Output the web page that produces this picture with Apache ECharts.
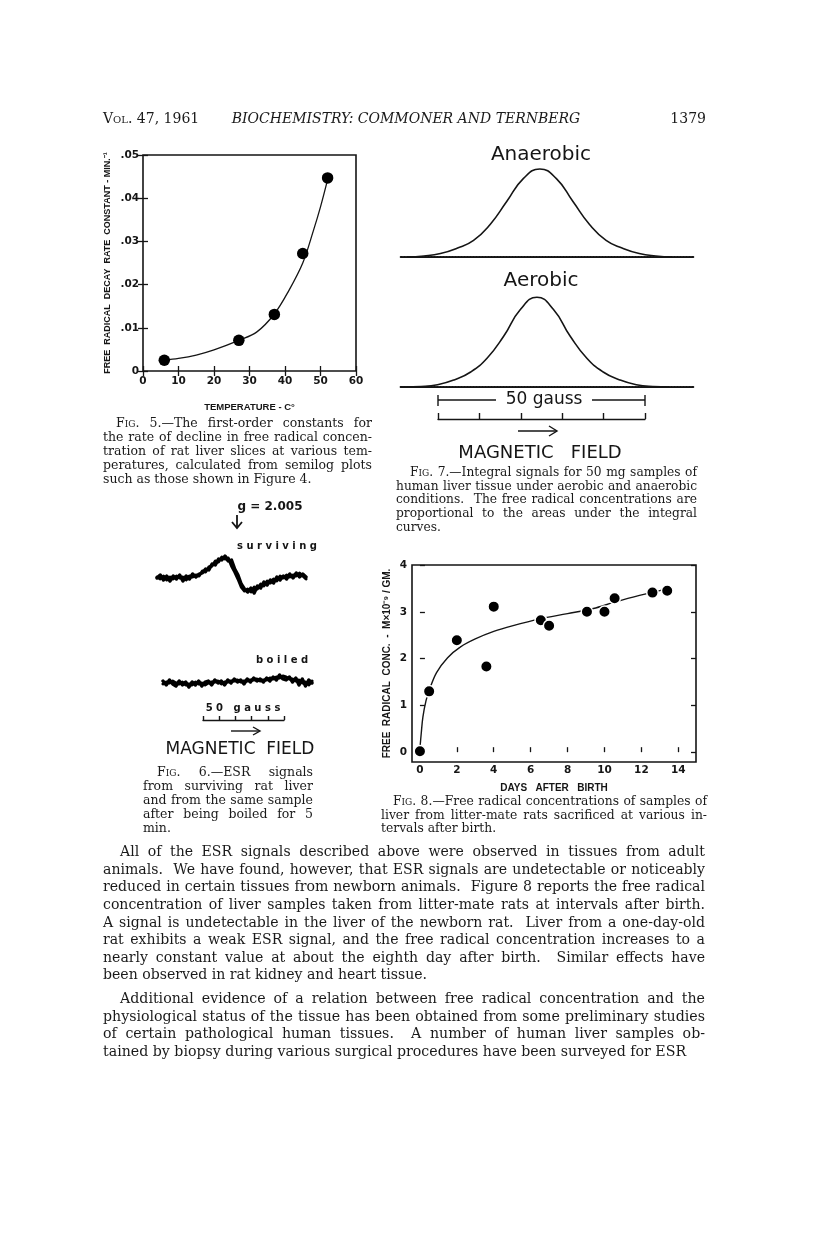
<!DOCTYPE html>
<html>
<head>
<meta charset="utf-8">
<title>Biochemistry: Commoner and Ternberg, p. 1379</title>
<script src="https://cdn.jsdelivr.net/npm/echarts@6.0.0/dist/echarts.min.js"></script>
<style>
  html, body { margin: 0; padding: 0; background: #fff; }
  #page { position: relative; width: 816px; height: 1244px; overflow: hidden; background: #fff; }
  #chart { position: absolute; left: 0; top: 0; width: 816px; height: 1244px; }
  .ln { position: absolute; font-family: "DejaVu Serif", serif; color: #1a1a1a; white-space: nowrap;
        text-align: justify; text-align-last: justify; }
  .ln.last { text-align-last: left; }
  .sc { font-variant: small-caps; }
  .hd { position: absolute; font-family: "DejaVu Serif", serif; color: #1a1a1a; font-size: 14px; line-height: 16px; white-space: nowrap; }
</style>
</head>
<body>
<div id="page">
  <div id="chart"></div>
</div>
<script>
// Fig. 5 - decay constant vs temperature
const temp5 = [6, 27, 37, 45, 52];
const rate5 = [0.0025, 0.0071, 0.0131, 0.0272, 0.0447];
const curveTemp5 = [6, 10, 15, 20, 27, 32, 37, 41, 45, 48, 50, 52];
const curveRate5 = [0.0025, 0.0029, 0.0037, 0.0049, 0.0071, 0.009, 0.0132, 0.0185, 0.025, 0.0325, 0.038, 0.0443];

// Fig. 7 - integral signals (field in gauss, relative height)
const anaField = [-7.4, -3.4, 0.6, 4.6, 8.6, 12.6, 16.6, 20.6, 24.6, 28.6, 32.6, 36.6, 40.6, 44.6, 48.6, 52.6, 56.6];
const anaSignal = [0, 0.012, 0.04, 0.10, 0.19, 0.37, 0.63, 0.89, 1.0, 0.89, 0.63, 0.37, 0.19, 0.10, 0.04, 0.012, 0];
const aerField = [-9.2, -8.1, -4.1, -0.1, 3.9, 7.9, 11.9, 15.9, 19.9, 23.9, 27.9, 31.9, 35.9, 39.9, 43.9, 47.9, 51.9, 55.9];
const aerSignal = [0, 0, 0.005, 0.025, 0.08, 0.17, 0.33, 0.58, 0.88, 1.02, 0.88, 0.58, 0.33, 0.17, 0.08, 0.025, 0.005, 0];

// Fig. 6 - ESR derivative traces (two overlapping scans each)
const esrField = [0, 2, 4, 6, 8, 10, 12, 14, 16, 18, 20, 22, 24, 26, 28, 30, 32, 34, 36, 38, 40, 42, 44, 46,
  48, 50, 52, 54, 56, 58, 60, 62, 64, 66, 68, 70, 72, 74, 76, 78, 80, 82, 84, 86, 88, 90, 92];
const survScanA = [0, 3, -2, 2, -3, 2, -1, 3, -3, 2, -1, 4, 1, 4, 5, 9, 8, 14, 13, 19, 18, 22, 17, 18,
  9, 3, -6, -11, -14, -10, -15, -8, -10, -4, -7, -2, -5, 1, -2, 2, -1, 4, 0, 5, 1, 4, 1];
const survScanB = [1, -1, 2, -2, 1, -1, 2, 0, 1, -2, 2, 1, 3, 2, 7, 6, 11, 12, 17, 16, 21, 19, 20, 12,
  6, -1, -9, -13, -11, -14, -9, -11, -6, -8, -3, -5, -1, -3, 2, 0, 3, 1, 3, 2, 5, 2, -1];
const boilScanA = [2, -2, 3, -1, -3, 2, -2, 1, -4, 1, -2, 2, -3, 1, 2, -2, 3, 0, 2, -2, 3, 0, 4, 1,
  3, -1, 4, 1, 5, 2, 4, 1, 5, 2, 6, 3, 8, 4, 3, 6, 1, 5, -2, 4, -3, 3, 0];
const boilScanB = [-1, 1, 0, 2, 0, -1, 1, -2, -1, -2, 1, -1, 0, -2, 0, 1, 1, 2, -1, 1, 1, 2, 2, 3,
  1, 2, 2, 3, 3, 4, 2, 3, 3, 5, 4, 6, 5, 7, 6, 4, 4, 2, 3, 0, 1, -2, 2];

// Fig. 8 - free radical conc. vs days after birth
const days8 = [0, 0.5, 2.0, 3.6, 4.0, 6.55, 7.0, 9.05, 10.0, 10.55, 12.6, 13.4];
const conc8 = [0.02, 1.3, 2.39, 1.83, 3.11, 2.82, 2.70, 3.0, 3.0, 3.29, 3.41, 3.45];
const curveDays8 = [0, 0.07, 0.16, 0.33, 0.5, 0.9, 1.5, 2.2, 3.0, 4.0, 5.0, 6.5, 8.0, 9.4, 10.5, 11.9, 13.4];
const curveConc8 = [0.08, 0.4, 0.75, 1.1, 1.32, 1.7, 2.02, 2.25, 2.42, 2.58, 2.7, 2.85, 2.96, 3.07, 3.2, 3.35, 3.49];
const ticks8X = [0, 2, 4, 6, 8, 10, 12, 14];
const ticks8Y = [0, 1, 2, 3, 4];

const ink = '#151515';
const sans = '"DejaVu Sans", "Noto Sans", sans-serif';
const narrow = '"Liberation Sans", Arial, sans-serif';
const pairs = (xs, ys) => xs.map((x, i) => [x, ys[i]]);

// ---------- text blocks (header, captions, body) ----------
const page = document.getElementById('page');

function addHead(text, css) {
  const d = document.createElement('div');
  d.className = 'hd';
  d.innerHTML = text;
  Object.assign(d.style, css);
  page.appendChild(d);
}
addHead('<span class="sc">Vol.</span> 47, 1961', { left: '103px', top: '110px' });
addHead('<i>BIOCHEMISTRY: COMMONER AND TERNBERG</i>', { left: '406px', top: '110px', transform: 'translateX(-50%)' });
addHead('1379', { right: '110px', top: '110px' });

// each line is justified to the column; font size is fitted so the tightest line just fills it
function block(x, w, firstY, lh, maxSize, indent, lines) {
  const probe = 20;
  const divs = [];
  let ratio = Infinity;
  lines.forEach((t, i) => {
    const d = document.createElement('div');
    const isLast = i === lines.length - 1;
    d.className = 'ln' + (isLast ? ' last' : '');
    const ind = i === 0 ? indent : 0;
    d.style.left = (x + ind) + 'px';
    d.style.width = (w - ind) + 'px';
    d.style.top = (firstY + i * lh - lh / 2) + 'px';
    d.style.height = lh + 'px';
    d.style.lineHeight = lh + 'px';
    d.style.fontSize = probe + 'px';
    const span = document.createElement('span');
    span.innerHTML = t;
    d.appendChild(span);
    page.appendChild(d);
    if (!isLast) ratio = Math.min(ratio, (w - ind) / span.getBoundingClientRect().width);
    divs.push(d);
  });
  const size = Math.min(maxSize, probe * ratio * 0.99);
  divs.forEach(d => { d.style.fontSize = size.toFixed(2) + 'px'; });
}

block(103, 269, 423, 14, 12.5, 13, [
  '<span class="sc">Fig.</span> 5.—The first-order constants for',
  'the rate of decline in free radical concen-',
  'tration of rat liver slices at various tem-',
  'peratures, calculated from semilog plots',
  'such as those shown in Figure 4.'
]);
block(396, 301, 473, 13.6, 12.5, 14, [
  '<span class="sc">Fig.</span> 7.—Integral signals for 50 mg samples of',
  'human liver tissue under aerobic and anaerobic',
  'conditions.&nbsp; The free radical concentrations are',
  'proportional to the areas under the integral',
  'curves.'
]);
block(143, 170, 772, 14, 12.5, 14, [
  '<span class="sc">Fig.</span> 6.—ESR signals',
  'from surviving rat liver',
  'and from the same sample',
  'after being boiled for 5',
  'min.'
]);
block(381, 326, 802, 13.6, 12.5, 12, [
  '<span class="sc">Fig.</span> 8.—Free radical concentrations of samples of',
  'liver from litter-mate rats sacrificed at various in-',
  'tervals after birth.'
]);
block(103, 602, 852, 17.6, 16, 17, [
  'All of the ESR signals described above were observed in tissues from adult',
  'animals.&nbsp; We have found, however, that ESR signals are undetectable or noticeably',
  'reduced in certain tissues from newborn animals.&nbsp; Figure 8 reports the free radical',
  'concentration of liver samples taken from litter-mate rats at intervals after birth.',
  'A signal is undetectable in the liver of the newborn rat.&nbsp; Liver from a one-day-old',
  'rat exhibits a weak ESR signal, and the free radical concentration increases to a',
  'nearly constant value at about the eighth day after birth.&nbsp; Similar effects have',
  'been observed in rat kidney and heart tissue.'
]);
block(103, 602, 999, 17.6, 16, 17, [
  'Additional evidence of a relation between free radical concentration and the',
  'physiological status of the tissue has been obtained from some preliminary studies',
  'of certain pathological human tissues.&nbsp; A number of human liver samples ob-',
  'tained by biopsy during various surgical procedures have been surveyed for ESR'
]);

// ---------- chart ----------
const chart = echarts.init(document.getElementById('chart'));

function txt(x, y, text, font) {
  return {
    type: 'text', silent: true,
    style: { x, y, text, font, fill: ink, textAlign: 'center', textVerticalAlign: 'middle', align: 'center', verticalAlign: 'middle' }
  };
}
function stroke(points, w) {
  return { type: 'polyline', silent: true, shape: { points }, style: { stroke: ink, lineWidth: w || 1.4, fill: null } };
}

const hiddenAxis = (grid, min, max) => ({ gridIndex: grid, type: 'value', min, max, show: false });
const baseX = (grid, min, max) => ({
  gridIndex: grid, type: 'value', min, max,
  axisLine: { show: true, onZero: false, lineStyle: { color: ink, width: 2, type: [1.6, 1.4] } },
  axisTick: { show: false }, axisLabel: { show: false }, splitLine: { show: false }
});
const rulerX = (grid, len) => ({
  gridIndex: grid, type: 'value', min: 0, max: 50, interval: 10,
  axisLine: { show: true, lineStyle: { color: ink, width: 1.4 } },
  axisTick: { show: true, inside: true, length: len, lineStyle: { color: ink, width: 1.4 } },
  axisLabel: { show: false }, splitLine: { show: false }
});

const labelStyle = { color: ink, fontFamily: sans, fontSize: 10.5, fontWeight: 'bold' };
const titleStyle = { color: ink, fontFamily: narrow, fontSize: 9.5, fontWeight: 'bold' };
const tickStyle = { show: true, inside: true, length: 5, lineStyle: { color: ink, width: 1.3 } };
const esrLine = (name, xi, ys, w) => ({
  name, type: 'line', xAxisIndex: xi, yAxisIndex: xi, symbol: 'none',
  lineStyle: { color: '#000', width: w, join: 'round', cap: 'round' }, data: pairs(esrField, ys)
});

const option = {
  animation: false,
  backgroundColor: 'transparent',
  grid: [
    { left: 143, top: 155, width: 213, height: 216, show: true, borderColor: ink, borderWidth: 1.6, backgroundColor: 'transparent' },
    { left: 400.7, top: 151.4, width: 294, height: 105.6 },
    { left: 400.7, top: 281.4, width: 294, height: 105.6 },
    { left: 438, top: 400, width: 207, height: 19 },
    { left: 157, top: 553, width: 149, height: 50 },
    { left: 163, top: 658, width: 149, height: 50 },
    { left: 203, top: 700, width: 81, height: 20 },
    { left: 412, top: 565, width: 284, height: 197, show: true, borderColor: ink, borderWidth: 1.6, backgroundColor: 'transparent' }
  ],
  xAxis: [
    {
      gridIndex: 0, type: 'value', min: 0, max: 60, interval: 10,
      name: 'TEMPERATURE - C°', nameLocation: 'middle', nameGap: 31, nameTextStyle: titleStyle,
      axisLine: { show: false }, axisTick: tickStyle,
      axisLabel: Object.assign({ margin: 5 }, labelStyle), splitLine: { show: false }
    },
    {
      gridIndex: 0, type: 'value', min: 0, max: 60, interval: 10, position: 'top',
      axisLine: { show: false }, axisTick: tickStyle, axisLabel: { show: false }, splitLine: { show: false }
    },
    baseX(1, -9, 62),
    baseX(2, -9, 62),
    rulerX(3, 6),
    hiddenAxis(4, 0, 92),
    hiddenAxis(5, 0, 92),
    rulerX(6, 4),
    {
      gridIndex: 7, type: 'value', min: -0.43, max: 14.96,
      name: 'DAYS   AFTER   BIRTH', nameLocation: 'middle', nameGap: 21,
      nameTextStyle: Object.assign({}, titleStyle, { fontSize: 10 }),
      axisLine: { show: false },
      axisTick: Object.assign({ customValues: ticks8X }, tickStyle),
      axisLabel: Object.assign({ margin: 3, customValues: ticks8X }, labelStyle),
      splitLine: { show: false }
    }
  ],
  yAxis: [
    {
      gridIndex: 0, type: 'value', min: 0, max: 0.05, interval: 0.01,
      name: 'FREE  RADICAL  DECAY  RATE  CONSTANT - MIN.⁻¹', nameLocation: 'middle', nameGap: 31,
      nameTextStyle: Object.assign({}, titleStyle, { fontSize: 9 }),
      axisLine: { show: false }, axisTick: tickStyle,
      axisLabel: Object.assign({ margin: 4, formatter: v => v === 0 ? '0' : v.toFixed(2).replace(/^0/, '') }, labelStyle),
      splitLine: { show: false }
    },
    {
      gridIndex: 0, type: 'value', min: 0, max: 0.05, interval: 0.01, position: 'right',
      axisLine: { show: false }, axisTick: tickStyle, axisLabel: { show: false }, splitLine: { show: false }
    },
    hiddenAxis(1, 0, 1.2),
    hiddenAxis(2, 0, 1.2),
    hiddenAxis(3, 0, 1),
    hiddenAxis(4, -25, 25),
    hiddenAxis(5, -25, 25),
    hiddenAxis(6, 0, 1),
    {
      gridIndex: 7, type: 'value', min: -0.21, max: 4,
      name: 'FREE  RADICAL  CONC.  -  M×10⁻⁹ / GM.', nameLocation: 'middle', nameGap: 20,
      nameTextStyle: Object.assign({}, titleStyle, { fontSize: 10 }),
      axisLine: { show: false },
      axisTick: Object.assign({ customValues: ticks8Y }, tickStyle),
      axisLabel: Object.assign({ margin: 5, customValues: ticks8Y }, labelStyle),
      splitLine: { show: false }
    },
    {
      gridIndex: 7, type: 'value', min: -0.21, max: 4, position: 'right',
      axisLine: { show: false },
      axisTick: Object.assign({ customValues: ticks8Y }, tickStyle),
      axisLabel: { show: false }, splitLine: { show: false }
    }
  ],
  series: [
    {
      name: 'Fig 5 curve', type: 'line', xAxisIndex: 0, yAxisIndex: 0, smooth: 0.35, symbol: 'none',
      lineStyle: { color: ink, width: 1.3 }, data: pairs(curveTemp5, curveRate5), z: 2
    },
    {
      name: 'Fig 5 points', type: 'scatter', xAxisIndex: 0, yAxisIndex: 0, symbolSize: 11.5,
      itemStyle: { color: '#000', opacity: 1 }, data: pairs(temp5, rate5), z: 3
    },
    {
      name: 'Anaerobic', type: 'line', xAxisIndex: 2, yAxisIndex: 2, smooth: 0.5, symbol: 'none',
      lineStyle: { color: ink, width: 1.6 }, data: pairs(anaField, anaSignal)
    },
    {
      name: 'Aerobic', type: 'line', xAxisIndex: 3, yAxisIndex: 3, smooth: 0.5, symbol: 'none',
      lineStyle: { color: ink, width: 1.6 }, data: pairs(aerField, aerSignal)
    },
    esrLine('surviving A', 5, survScanA, 3.4),
    esrLine('surviving B', 5, survScanB, 3),
    esrLine('boiled A', 6, boilScanA, 3.4),
    esrLine('boiled B', 6, boilScanB, 3),
    {
      name: 'Fig 8 curve', type: 'line', xAxisIndex: 8, yAxisIndex: 8, smooth: 0.35, symbol: 'none',
      lineStyle: { color: ink, width: 1.4 }, data: pairs(curveDays8, curveConc8), z: 2
    },
    {
      name: 'Fig 8 points', type: 'scatter', xAxisIndex: 8, yAxisIndex: 8, symbolSize: 11.5,
      itemStyle: { color: '#000', opacity: 1, borderColor: '#fff', borderWidth: 1.5 }, data: pairs(days8, conc8), z: 3
    }
  ],
  graphic: [
    // Fig. 7 labels and scale
    txt(541, 155, 'Anaerobic', '20px ' + sans),
    txt(541, 281, 'Aerobic', '20px ' + sans),
    txt(544, 400, '50 gauss', '17px ' + sans),
    stroke([[438, 400], [496, 400]]),
    stroke([[592, 400], [645, 400]]),
    stroke([[438, 395], [438, 406]]),
    stroke([[645, 395], [645, 406]]),
    stroke([[518, 431], [557, 431]]),
    stroke([[549, 426], [557, 431], [549, 436]]),
    txt(540, 453, 'MAGNETIC   FIELD', '18px ' + sans),
    // Fig. 6 labels and scale
    txt(270, 507, 'g = 2.005', 'bold 12px ' + sans),
    stroke([[237, 515], [237, 527]], 1.8),
    stroke([[232, 522], [237, 528], [242, 522]], 1.8),
    txt(277, 546, 's u r v i v i n g', 'bold 10px ' + sans),
    txt(282, 660, 'b o i l e d', 'bold 10px ' + sans),
    txt(243, 708, '5 0   g a u s s', 'bold 10px ' + sans),
    stroke([[231, 731], [259, 731]]),
    stroke([[253, 727], [260, 731], [253, 735]]),
    txt(240, 750, 'MAGNETIC  FIELD', '17px ' + sans)
  ]
};

chart.setOption(option);
</script>
</body>
</html>
